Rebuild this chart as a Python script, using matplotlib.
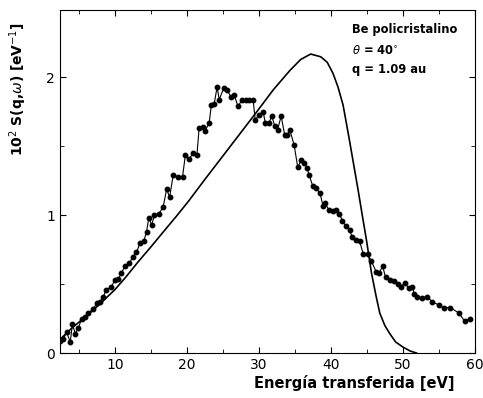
import numpy as np
import matplotlib.pyplot as plt
from matplotlib.ticker import MultipleLocator

# experimental points
x_exp = [2.4, 2.8, 3.3, 3.8, 4.1, 4.5, 4.9, 5.4, 5.8, 6.3, 7.0, 7.5, 7.9, 8.4, 8.8, 9.5,
         10.0, 10.5, 10.9, 11.4, 12.0, 12.5, 13.0, 13.5, 14.0, 14.4, 14.7, 15.1, 15.5, 16.1,
         16.7, 17.2, 17.6, 18.1, 18.8, 19.4, 19.8, 20.3, 20.9, 21.4, 21.7, 22.2, 22.5, 23.1,
         23.4, 23.8, 24.2, 24.5, 25.1, 25.6, 26.1, 26.6, 27.1, 27.7, 28.2, 28.7, 29.2, 29.5,
         30.0, 30.6, 30.9, 31.4, 31.8, 32.2, 32.6, 33.1, 33.6, 33.9, 34.3, 34.9, 35.4, 35.9,
         36.3, 36.7, 37.0, 37.5, 37.9, 38.5, 38.9, 39.2, 39.7, 40.3, 40.7, 41.2, 41.6, 42.1,
         42.6, 43.0, 43.5, 44.0, 44.5, 45.1, 45.6, 46.3, 46.7, 47.2, 47.6, 48.2, 48.8, 49.3,
         49.7, 50.3, 50.8, 51.3, 51.6, 52.0, 52.6, 53.4, 54.1, 55.0, 55.7, 56.6, 57.8, 58.6,
         59.4]
y_exp = [0.09, 0.10, 0.15, 0.08, 0.21, 0.14, 0.18, 0.25, 0.26, 0.29, 0.32, 0.36, 0.37, 0.41,
         0.46, 0.48, 0.53, 0.54, 0.58, 0.63, 0.65, 0.70, 0.73, 0.80, 0.81, 0.88, 0.98, 0.93,
         1.00, 1.01, 1.06, 1.19, 1.13, 1.29, 1.28, 1.28, 1.44, 1.41, 1.45, 1.44, 1.63, 1.64,
         1.61, 1.67, 1.80, 1.81, 1.93, 1.84, 1.92, 1.91, 1.86, 1.87, 1.79, 1.84, 1.84, 1.84,
         1.84, 1.69, 1.73, 1.75, 1.67, 1.67, 1.72, 1.65, 1.62, 1.72, 1.58, 1.58, 1.62, 1.51,
         1.35, 1.40, 1.38, 1.34, 1.29, 1.21, 1.20, 1.16, 1.07, 1.09, 1.04, 1.03, 1.04, 1.01,
         0.96, 0.92, 0.89, 0.84, 0.82, 0.81, 0.72, 0.72, 0.67, 0.59, 0.58, 0.63, 0.55, 0.53,
         0.52, 0.50, 0.48, 0.51, 0.47, 0.48, 0.43, 0.41, 0.40, 0.41, 0.37, 0.35, 0.33, 0.33,
         0.29, 0.23, 0.25]

# theory curve
x_th = [2.4, 4.0, 6.3, 8.0, 10.0, 11.5, 13.2, 15.0, 16.9, 18.5, 20.2, 22.5, 25.0, 27.5,
        29.7, 32.0, 34.3, 35.8, 37.2, 38.6, 39.5, 40.3, 41.0, 41.7, 42.5, 43.2, 43.8, 44.4,
        44.95, 45.65, 46.3, 46.8, 47.5, 48.2, 49.0, 50.0, 51.0, 51.9]
y_th = [0.10, 0.18, 0.28, 0.36, 0.46, 0.55, 0.66, 0.77, 0.89, 0.99, 1.10, 1.26, 1.43, 1.60,
        1.75, 1.91, 2.05, 2.13, 2.17, 2.15, 2.11, 2.03, 1.93, 1.80, 1.57, 1.36, 1.18, 0.99,
        0.82, 0.58, 0.41, 0.29, 0.20, 0.14, 0.08, 0.044, 0.015, 0.0]

fig = plt.figure(figsize=(4.83, 3.98), dpi=100)
ax = fig.add_axes([0.124, 0.113, 0.859, 0.862])

ax.plot(x_th, y_th, color='black', lw=1.2)
ax.plot(x_exp, y_exp, color='black', lw=0.8, marker='o', ms=3.2)

ax.set_xlim(2.36, 60)
ax.set_ylim(0, 2.49)
ax.xaxis.set_major_locator(MultipleLocator(10))
ax.xaxis.set_minor_locator(MultipleLocator(5))
ax.yaxis.set_major_locator(MultipleLocator(1))
ax.yaxis.set_minor_locator(MultipleLocator(0.5))
ax.tick_params(which='both', direction='in', top=True, right=True, labelsize=10)
ax.tick_params(which='major', length=4)
ax.tick_params(which='minor', length=3)

ax.set_xlabel('Energía transferida [eV]', fontsize=10.5, fontweight='bold')
ax.xaxis.set_label_coords(0.71, -0.065)
ax.set_ylabel(r'10$^2$ S(q,$\omega$) [eV$^{-1}$]', fontsize=10, fontweight='bold')
ax.yaxis.set_label_coords(-0.075, 0.77)

ax.text(43.0, 2.35, 'Be policristalino', fontsize=8.3, fontweight='bold', va='center')
ax.text(43.0, 2.19, r'$\theta$ = 40$^{\circ}$', fontsize=8.3, fontweight='bold', va='center')
ax.text(43.0, 2.06, 'q = 1.09 au', fontsize=8.3, fontweight='bold', va='center')

fig.savefig('out.png', dpi=100)
